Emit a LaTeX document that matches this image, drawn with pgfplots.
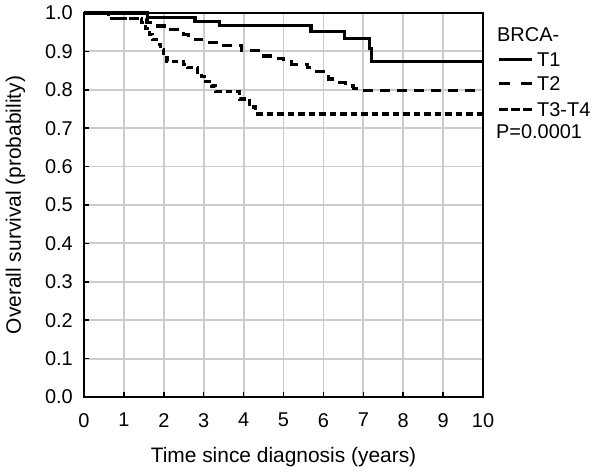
\documentclass[border=0pt]{standalone}
\usepackage{fontspec}
\setmainfont{Liberation Sans}
\usepackage{pgfplots}
\pgfplotsset{compat=1.18}

\definecolor{gridgray}{RGB}{204,204,204}

\newcommand{\tickfont}{\fontsize{20}{23}\selectfont}
\newcommand{\labfont}{\fontsize{21}{25}\selectfont}

\begin{document}
\begin{tikzpicture}
\path[use as bounding box] (-84bp,-75bp) rectangle (518bp,397bp);
\begin{axis}[
    scale only axis,
    width  = 399bp,
    height = 384bp,
    xmin = 0, xmax = 10,
    ymin = 0, ymax = 1,
    clip = false,
    xtick = {0,1,2,3,4,5,6,7,8,9,10},
    ytick = {0,0.1,0.2,0.3,0.4,0.5,0.6,0.7,0.8,0.9,1.0},
    tick pos = left,
    tick align = inside,
    major tick length = 5bp,
    tick style = {black, line width=1.5bp},
    grid = major,
    major grid style = {gridgray, line width=1.8bp},
    axis line style = {line width=2bp},
    /pgf/number format/assume math mode = true,
    xticklabel style = {font=\tickfont, anchor=north, inner sep=0pt, yshift=-16bp},
    yticklabel style = {font=\tickfont, anchor=east, inner sep=0pt, xshift=-11bp,
                        /pgf/number format/fixed, /pgf/number format/fixed zerofill,
                        /pgf/number format/precision=1},
    xlabel = {Time since diagnosis (years)},
    ylabel = {Overall survival (probability)},
    xlabel style = {font=\labfont, at={(axis description cs:0.5,0)}, anchor=base, yshift=-65bp},
    ylabel style = {font=\labfont, at={(axis description cs:-0.172,0.5)}, anchor=center},
]
% T1
\addplot[const plot, black, line width=3.2bp] coordinates {
    (0,1.0) (1.6,0.988) (2.78,0.977) (3.4,0.967) (5.69,0.951)
    (6.52,0.934) (7.15,0.908) (7.21,0.873) (10,0.873)
};
% T2
\addplot[const plot, black, line width=3.2bp, dash pattern=on 10bp off 7bp] coordinates {
    (0,1.0) (0.62,0.985) (1.58,0.975) (1.75,0.966) (2.1,0.956) (2.5,0.945)
    (2.62,0.932) (2.95,0.924) (3.45,0.916) (3.95,0.902) (4.45,0.888)
    (4.75,0.882) (5.0,0.873) (5.2,0.866) (5.6,0.858) (5.72,0.848)
    (6.0,0.840) (6.12,0.828) (6.4,0.820) (6.55,0.810) (6.75,0.803)
    (6.9,0.798) (10,0.798)
};
% T3-T4
\addplot[const plot, black, line width=3.2bp, dash pattern=on 6.5bp off 4bp] coordinates {
    (0,1.0) (0.62,0.985) (1.45,0.975) (1.55,0.960) (1.65,0.945) (1.72,0.932)
    (1.82,0.918) (1.92,0.904) (2.0,0.890) (2.08,0.873) (2.5,0.866)
    (2.6,0.858) (2.85,0.845) (2.95,0.835) (3.05,0.822) (3.2,0.810)
    (3.3,0.795) (3.9,0.776) (4.15,0.755) (4.3,0.737) (10,0.737)
};
\end{axis}

% legend
\node[anchor=base west, inner sep=0pt, font=\tickfont] at (413bp,355.3bp) {BRCA-};
\draw[line width=3.2bp] (415bp,337.7bp) -- (448bp,337.7bp);
\node[anchor=base west, inner sep=0pt, font=\tickfont] at (453bp,330.3bp) {T1};
\draw[line width=3.2bp, dash pattern=on 11bp off 11bp] (415bp,313.7bp) -- (448bp,313.7bp);
\node[anchor=base west, inner sep=0pt, font=\tickfont] at (453bp,306bp) {T2};
\draw[line width=3.2bp, dash pattern=on 9bp off 3bp] (415bp,287.7bp) -- (448bp,287.7bp);
\node[anchor=base west, inner sep=0pt, font=\tickfont] at (453bp,280.3bp) {T3-T4};
\node[anchor=base west, inner sep=0pt, font=\tickfont] at (412bp,258.7bp) {P=0.0001};
\end{tikzpicture}
\end{document}
